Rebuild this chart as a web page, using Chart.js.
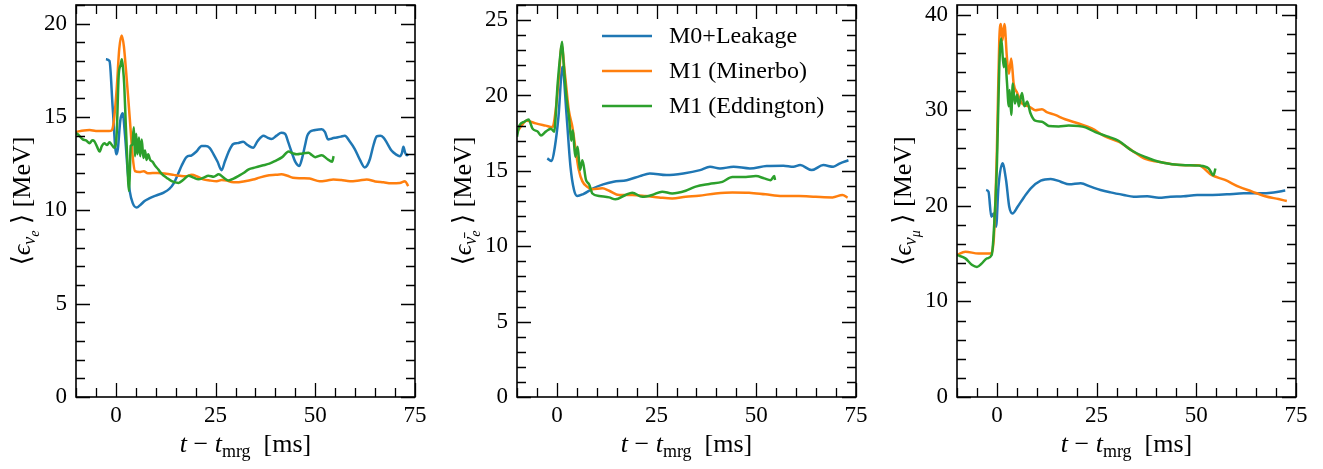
<!DOCTYPE html>
<html><head><meta charset="utf-8">
<script src="https://cdn.jsdelivr.net/npm/chart.js@4.4.1/dist/chart.umd.min.js"></script>
<style>
html,body{margin:0;padding:0;background:#fff;width:1323px;height:469px;overflow:hidden}
.p{position:absolute;top:0;width:440px;height:469px}
</style></head><body>
<div class="p" style="left:0"><canvas id="c1" width="440" height="469"></canvas></div>
<div class="p" style="left:441px"><canvas id="c2" width="440" height="469"></canvas></div>
<div class="p" style="left:881px"><canvas id="c3" width="440" height="469"></canvas></div>
<script>
// ---------- labels ----------
const seriesNames = ['M0+Leakage', 'M1 (Minerbo)', 'M1 (Eddington)'];
const seriesColors = ['#1f77b4', '#ff7f0e', '#2ca02c'];
const xTickValues = [0, 25, 50, 75];
const yTicksNue = [0, 5, 10, 15, 20];
const yTicksNuebar = [0, 5, 10, 15, 20, 25];
const yTicksNumu = [0, 10, 20, 30, 40];

// ---------- panel 1 : nu_e ----------
const tLeakNue = [-2.5,-1.6,-0.8,0.1,0.5,1.1,1.7,2.3,3.0,3.5,4.2,5.2,6.2,7.2,8.5,9.5,10.8,12.0,13.4,14.5,15.5,16.5,17.7,19.0,20.2,21.5,22.5,23.5,24.5,25.5,26.5,27.3,28.2,29.4,30.5,31.9,33.0,34.4,35.5,37.0,38.0,39.0,40.3,41.5,42.4,43.3,44.1,45.0,46.0,46.7,47.4,48.0,48.6,50.0,51.6,52.4,53.2,54.2,55.3,56.4,57.4,58.6,59.9,61.2,62.4,63.0,63.7,64.6,65.4,66.3,67.1,68.0,69.1,70.2,71.2,71.7,72.1,72.5,73.0,73.3];
const eLeakNue = [18.1,18.0,15.5,13.0,13.3,14.8,15.2,14.0,12.0,11.0,10.4,10.15,10.3,10.5,10.65,10.75,10.85,10.95,11.15,11.45,11.9,12.4,12.85,12.95,13.15,13.45,13.45,13.35,13.0,12.6,12.15,12.6,13.1,13.55,13.6,13.67,13.5,13.35,13.7,14.0,13.9,13.82,14.0,14.15,14.1,13.6,13.1,12.6,12.38,12.8,13.46,14.0,14.2,14.3,14.35,14.2,13.8,13.85,13.9,13.95,14.0,13.7,13.28,12.7,12.3,12.4,12.75,13.5,13.96,14.0,13.9,13.6,13.2,13.0,12.9,13.05,13.4,13.1,12.95,13.0];
const tMinNue = [-10,-8,-6.6,-5,-3,-1.7,-1.0,-0.5,0.2,0.85,1.45,2.0,2.5,3.1,3.7,4.2,4.8,5.9,7.0,8.0,9.2,10.5,12.6,14.5,16.1,17.5,19.0,20.5,21.9,23.5,25.3,26.5,27.8,29.0,30.3,32.0,34.4,36.0,37.8,40.0,41.5,43.0,44.4,46.5,48.6,51.1,53.0,54.5,56.5,58.7,61.0,62.9,65.0,67.1,69.0,71.2,72.5,73.3];
const eMinNue = [14.2,14.28,14.3,14.25,14.25,14.25,14.3,14.8,16.5,18.66,19.37,18.8,17.6,16.0,14.3,12.9,12.1,12.05,12.1,11.98,12.0,12.0,11.96,11.9,11.85,11.82,11.9,11.8,11.66,11.6,11.56,11.62,11.6,11.52,11.5,11.55,11.65,11.75,11.85,11.9,11.93,11.85,11.75,11.72,11.7,11.56,11.6,11.65,11.62,11.56,11.6,11.65,11.55,11.5,11.45,11.47,11.56,11.3];
const tEddNue = [-10,-9.2,-8.3,-7.5,-6.6,-5.9,-5.4,-4.7,-4.1,-3.5,-2.9,-2.2,-1.6,-1.0,-0.4,0.2,0.7,1.2,1.5,1.8,2.1,2.5,2.8,3.1,3.3,3.5,3.7,4.1,4.5,4.8,5.1,5.4,5.8,6.1,6.5,6.9,7.3,7.7,8.1,8.6,9.2,9.8,10.6,11.5,12.7,14.0,15.7,17.0,18.2,19.5,20.7,22.0,23.2,24.5,25.8,27.0,28.3,29.5,30.8,32.0,33.3,35.0,36.7,38.5,40.0,41.7,43.3,44.4,45.4,46.8,48.3,49.2,50.0,51.6,53.0,54.2,54.6];
const eEddNue = [14.15,14.0,13.8,13.75,13.6,13.75,13.7,13.4,13.15,13.45,13.6,13.5,13.65,13.5,13.35,14.1,17.2,17.8,18.1,17.6,16.7,14.5,13.0,11.5,11.04,12.0,13.46,13.5,14.45,12.9,14.1,13.0,13.9,12.9,13.8,12.8,13.2,12.7,13.0,12.7,12.6,12.4,12.2,11.95,11.75,11.56,11.47,11.65,11.85,11.75,11.66,11.75,11.85,11.8,11.93,11.75,11.6,11.7,11.85,12.0,12.2,12.3,12.4,12.5,12.65,12.85,13.15,13.05,13.0,13.05,13.08,12.95,12.85,12.95,12.75,12.6,12.9];

// ---------- panel 2 : anti nu_e ----------
const tLeakNuebar = [-2.4,-1.3,-0.5,0.4,1.4,2.4,3.4,4.3,5.1,6.6,9.1,11.6,14.2,17.5,20.8,23.3,27.5,31.7,35.9,38.4,40.9,44.3,48.4,52.6,56.8,59.3,61.0,63.9,66.8,69.3,71.0,73.1];
const eLeakNuebar = [15.83,15.65,16.6,18.6,21.9,18.8,15.3,13.73,13.33,13.46,13.84,14.1,14.27,14.38,14.65,14.83,14.72,14.83,15.05,15.27,15.16,15.27,15.16,15.32,15.34,15.27,15.38,15.05,15.38,15.27,15.5,15.7];
const tMinNuebar = [-10,-9.4,-7.6,-5.3,-2.8,-1.1,-0.3,0.5,1.2,2.0,3.0,3.9,4.7,5.5,6.4,7.6,8.9,11.4,13.1,15.6,18.9,22.3,25.6,28.9,32.3,35.6,39.8,44.0,48.2,52.3,56.5,60.7,64.9,69.1,71.6,72.9];
const eMinNuebar = [17.6,17.8,18.32,18.15,18.0,17.9,19.03,21.24,23.3,21.47,19.0,17.9,16.4,15.06,14.3,13.95,13.78,13.84,13.68,13.4,13.4,13.33,13.24,13.17,13.28,13.35,13.5,13.57,13.55,13.44,13.33,13.33,13.28,13.24,13.4,13.22];
const tEddNuebar = [-10,-9.4,-8.2,-7.1,-6.1,-4.8,-4.0,-2.8,-1.5,-0.7,0.2,0.8,1.3,1.7,2.3,3.1,3.6,4.0,4.6,5.2,5.8,6.4,7.3,8.1,8.9,10.6,13.1,14.7,17.2,18.9,21.4,23.9,26.4,28.9,32.3,34.8,38.2,41.5,44.0,47.4,49.9,52.0,53.6,54.5,54.7];
const eEddNuebar = [17.26,18.0,18.25,18.4,17.8,17.6,17.35,17.6,17.8,17.6,20.8,22.55,23.56,22.1,20.15,18.4,17.0,17.7,15.93,16.6,15.06,15.7,14.4,14.1,13.5,13.33,13.24,13.11,13.4,13.55,13.28,13.4,13.62,13.5,13.68,13.95,14.13,14.27,14.6,14.6,14.65,14.5,14.38,14.65,14.4];

// ---------- panel 3 : nu_mu ----------
const tLeakNumu = [-2.7,-2.1,-1.4,-0.8,-0.2,0.4,1.4,2.3,3.1,3.9,5.2,6.8,8.5,11.0,13.5,16.0,18.1,21.0,23.5,26.0,28.5,31.8,34.3,37.7,40.6,43.5,46.8,50.2,53.5,57.7,61.9,66.0,69.4,72.3];
const eLeakNumu = [21.65,21.47,18.86,19.2,17.8,22.0,24.45,22.7,19.9,19.2,19.9,20.9,21.83,22.63,22.8,22.52,22.24,22.35,22.0,21.65,21.4,21.13,20.95,21.0,20.85,20.95,21.0,21.13,21.13,21.2,21.3,21.3,21.4,21.6];
const tMinNumu = [-10,-7.9,-4.6,-1.6,-0.8,0,0.6,1.0,1.4,1.9,2.5,3.0,3.6,4.2,5.1,6.3,8.0,9.6,11.3,12.5,14.6,17.1,20.5,23.8,27.1,30.5,33.8,37.2,40.5,43.9,47.2,50.5,53.9,57.2,60.6,63.9,67.3,70.6,72.7];
const eMinNumu = [14.85,15.2,15.0,15.0,16.4,25.8,37.3,39.0,37.3,39.0,35.6,33.8,35.4,32.8,31.8,30.7,30.4,30.0,30.1,29.8,29.5,29.05,28.6,28.1,27.25,26.7,25.8,24.9,24.6,24.35,24.25,24.25,23.2,22.7,22.0,21.5,21.0,20.7,20.5];
const tEddNumu = [-10,-7.9,-6.2,-5.0,-3.7,-2.5,-1.3,-0.8,0,0.6,1.1,1.7,2.1,2.5,3.0,3.2,3.6,4.0,4.5,5.1,5.5,6.3,6.9,7.6,8.4,9.6,11.3,13.0,15.5,18.0,20.5,22.2,24.7,28.1,30.5,33.9,37.2,40.6,43.9,47.3,50.6,53.1,54.3,54.8];
const eEddNumu = [14.85,14.5,13.8,13.6,14.0,14.5,14.85,17.1,24.1,34.5,37.5,34.5,35.4,33.1,30.4,32.1,29.5,32.8,30.7,31.6,30.4,31.8,30.4,30.9,29.7,28.9,28.8,28.35,28.3,28.4,28.35,28.2,27.7,27.2,26.8,25.75,25.1,24.6,24.35,24.25,24.2,23.9,23.2,23.9];

// ---------- helpers ----------
const FAMILY = "'Liberation Serif','DejaVu Serif',serif";
const pts = (t, e) => t.map((v, i) => ({x: v, y: e[i]}));
function range(a, b, s) { const r = []; for (let v = a; v <= b + 1e-9; v += s) r.push(+v.toFixed(6)); return r; }

function richWidth(ctx, segs) {
  let w = 0;
  for (const s of segs) { ctx.font = (s.i ? 'italic ' : '') + s.s + 'px ' + FAMILY; w += ctx.measureText(s.t).width; }
  return w;
}
function drawRich(ctx, segs, cx, cy, rot) {
  ctx.save();
  ctx.translate(cx, cy);
  if (rot) ctx.rotate(-Math.PI / 2);
  const w = richWidth(ctx, segs);
  let x = -w / 2;
  ctx.fillStyle = '#000';
  ctx.textBaseline = 'alphabetic';
  ctx.textAlign = 'left';
  for (const s of segs) {
    ctx.font = (s.i ? 'italic ' : '') + s.s + 'px ' + FAMILY;
    ctx.fillText(s.t, x, 9 + (s.dy || 0));
    x += ctx.measureText(s.t).width;
  }
  ctx.restore();
}

const frameTicks = {
  id: 'frameTicks',
  afterDatasetsDraw(chart, args, o) {
    const ctx = chart.ctx, a = chart.chartArea, xs = chart.scales.x, ys = chart.scales.y;
    ctx.save();
    ctx.strokeStyle = '#000';
    ctx.lineWidth = 1.3;
    ctx.beginPath();
    const tick = (vals, len, horiz) => {
      for (const v of vals) {
        if (horiz) {
          const px = Math.round(xs.getPixelForValue(v)) + 0.5;
          ctx.moveTo(px, a.bottom); ctx.lineTo(px, a.bottom - len);
          ctx.moveTo(px, a.top); ctx.lineTo(px, a.top + len);
        } else {
          const py = Math.round(ys.getPixelForValue(v)) + 0.5;
          ctx.moveTo(a.left, py); ctx.lineTo(a.left + len, py);
          ctx.moveTo(a.right, py); ctx.lineTo(a.right - len, py);
        }
      }
    };
    tick(o.xMinor, 9, true);
    tick(o.xMajor, 14, true);
    tick(o.yMinor, 9, false);
    tick(o.yMajor, 14, false);
    ctx.stroke();
    ctx.lineWidth = 1.6;
    ctx.strokeRect(a.left, a.top, a.right - a.left, a.bottom - a.top);
    ctx.restore();
  },
  afterDraw(chart, args, o) {
    const ctx = chart.ctx, a = chart.chartArea;
    drawRich(ctx, o.xTitle, (a.left + a.right) / 2, 443, false);
    drawRich(ctx, o.yTitle, 21, (a.top + a.bottom) / 2, true);
    if (o.legend) {
      const L = o.legend;
      ctx.save();
      chart.data.datasets.forEach((d, i) => {
        const y = L.y[i];
        ctx.strokeStyle = d.borderColor; ctx.lineWidth = 2.5;
        ctx.beginPath(); ctx.moveTo(L.x, y); ctx.lineTo(L.x + L.len, y); ctx.stroke();
        ctx.fillStyle = '#000'; ctx.font = '24px ' + FAMILY;
        ctx.textBaseline = 'middle'; ctx.textAlign = 'left';
        ctx.fillText(d.label, L.tx, y + 1);
      });
      ctx.restore();
    }
  }
};

const xTitle = [{t:'t', s:26, i:true}, {t:' \u2212 ', s:26}, {t:'t', s:26, i:true}, {t:'mrg', s:18, dy:5}, {t:'  [ms]', s:26}];

function makeChart(id, data3, yMax, yTicks, yMinorStep, yTitle, legend) {
  const datasets = data3.map((d, i) => ({
    label: seriesNames[i], data: d, borderColor: seriesColors[i], backgroundColor: seriesColors[i],
    borderWidth: 2.5, pointRadius: 0, cubicInterpolationMode: 'monotone', fill: false, order: 3 - i
  }));
  return new Chart(document.getElementById(id), {
    type: 'line',
    data: { datasets },
    plugins: [frameTicks],
    options: {
      responsive: false, animation: false, devicePixelRatio: 1,
      layout: { padding: { top: 5, right: 25, left: 0, bottom: 0 } },
      plugins: {
        legend: { display: false }, tooltip: { enabled: false },
        frameTicks: {
          xMajor: xTickValues, xMinor: range(-10, 75, 5),
          yMajor: yTicks, yMinor: range(0, yMax, yMinorStep),
          xTitle, yTitle, legend
        }
      },
      scales: {
        x: {
          type: 'linear', min: -10, max: 75,
          grid: { display: false, drawTicks: false }, border: { display: false },
          afterBuildTicks: s => { s.ticks = xTickValues.map(v => ({value: v})); },
          afterFit: s => { s.height = 72; s.paddingLeft = 0; s.paddingRight = 0; },
          ticks: { color: '#000', padding: 5, maxRotation: 0, font: { family: FAMILY, size: 23 } }
        },
        y: {
          type: 'linear', min: 0, max: yMax,
          grid: { display: false, drawTicks: false }, border: { display: false },
          afterBuildTicks: s => { s.ticks = yTicks.map(v => ({value: v})); },
          afterFit: s => { s.width = 76; s.paddingTop = 0; s.paddingBottom = 0; },
          ticks: { color: '#000', padding: 9, font: { family: FAMILY, size: 23 } }
        }
      }
    }
  });
}

makeChart('c1', [pts(tLeakNue, eLeakNue), pts(tMinNue, eMinNue), pts(tEddNue, eEddNue)], 21, yTicksNue, 1,
  [{t:'\u27E8', s:26}, {t:'\u03F5', s:26, i:true}, {t:'\u03BD', s:18, i:true, dy:5}, {t:'e', s:14, i:true, dy:9}, {t:' \u27E9 [MeV]', s:26}], null);
makeChart('c2', [pts(tLeakNuebar, eLeakNuebar), pts(tMinNuebar, eMinNuebar), pts(tEddNuebar, eEddNuebar)], 26, yTicksNuebar, 1,
  [{t:'\u27E8', s:26}, {t:'\u03F5', s:26, i:true}, {t:'\u03BD\u0304', s:18, i:true, dy:5}, {t:'e', s:14, i:true, dy:9}, {t:' \u27E9 [MeV]', s:26}],
  { x: 161, len: 50, tx: 228, y: [36, 71, 106] });
makeChart('c3', [pts(tLeakNumu, eLeakNumu), pts(tMinNumu, eMinNumu), pts(tEddNumu, eEddNumu)], 41, yTicksNumu, 2,
  [{t:'\u27E8', s:26}, {t:'\u03F5', s:26, i:true}, {t:'\u03BD', s:18, i:true, dy:5}, {t:'\u03BC', s:14, i:true, dy:9}, {t:' \u27E9 [MeV]', s:26}], null);
</script>
</body></html>
